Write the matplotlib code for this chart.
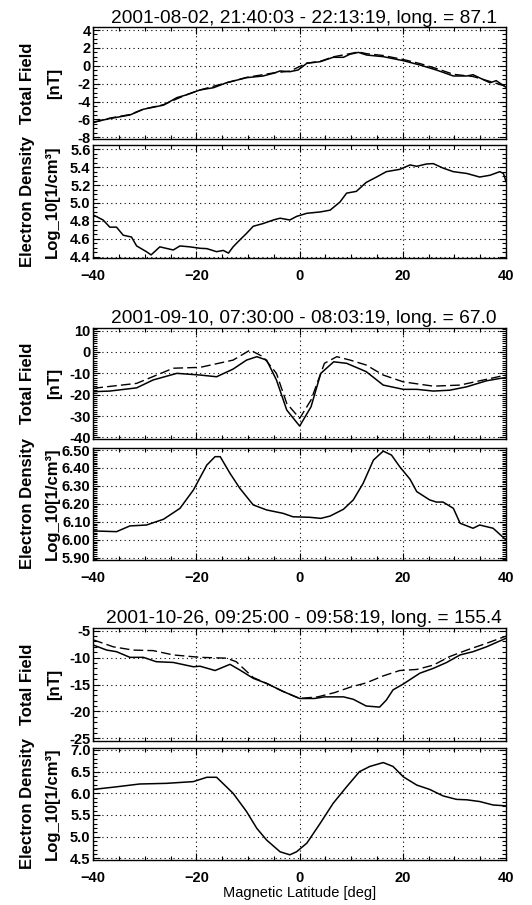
import matplotlib
matplotlib.use('Agg')
import matplotlib.pyplot as plt
from matplotlib.ticker import MultipleLocator, FormatStrFormatter

plt.rcParams['font.family'] = ['Liberation Sans', 'DejaVu Sans']

# --- pass 1: 2001-08-02 ---
title1 = '2001-08-02, 21:40:03 - 22:13:19, long. = 87.1'
lat1_b = [-40, -36.8, -32.9, -30.3, -26.4, -23.8, -22, -19.3, -16.7, -14.2, -10.3, -7.1,
          -5.1, -3.8, -1.9, -0.3, 1.4, 4, 6.5, 8.5, 9.7, 11.4, 13, 16.2, 20.1, 23.3,
          26.5, 29.8, 32.4, 33.6, 36.9, 38.1, 40]
b1 = [-6.3, -5.9, -5.5, -4.86, -4.4, -3.56, -3.26, -2.7, -2.45, -1.9, -1.33, -1.14,
      -0.84, -0.58, -0.66, -0.47, 0.28, 0.46, 0.95, 0.95, 1.28, 1.5, 1.2, 1.02, 0.57, 0.09,
      -0.47, -1.14, -1.14, -1.0, -1.9, -1.66, -2.4]
lat1_bm = [-40, -36.8, -32.9, -30.3, -26.4, -22, -19.3, -14.2, -10.3, -5.1, -1.9, 1.4, 4,
           6.5, 9.7, 11.4, 13, 16.2, 20.1, 23.3, 26.5, 29.8, 33.6, 36.9, 40]
bm1 = [-6.35, -5.85, -5.45, -4.85, -4.35, -3.25, -2.7, -1.9, -1.3, -0.8, -0.6, 0.3, 0.5,
       1.0, 1.35, 1.55, 1.35, 1.15, 0.7, 0.25, -0.3, -0.95, -1.2, -1.75, -2.3]
lat1_ne = [-40, -38.1, -36.8, -35.5, -34.2, -32.6, -31.6, -29.7, -28.8, -27.1, -24.5, -23.2,
           -21.3, -19.3, -18, -16.1, -14.8, -13.8, -12.9, -11.6, -10.3, -9.0, -7.1, -5.1,
           -3.8, -1.9, -0.6, 1.4, 4.0, 5.9, 7.8, 9.1, 11, 12.9, 14.9, 16.8, 19.4, 21.4,
           22.7, 24.6, 25.9, 27.8, 29.8, 32.4, 34.9, 36.9, 38.8, 39.5, 40]
ne1 = [4.866, 4.81, 4.73, 4.73, 4.64, 4.62, 4.52, 4.456, 4.42, 4.51, 4.475, 4.52,
       4.51, 4.494, 4.49, 4.456, 4.47, 4.44, 4.51, 4.587, 4.66, 4.74, 4.77, 4.81,
       4.83, 4.81, 4.85, 4.885, 4.90, 4.92, 5.01, 5.11, 5.13, 5.23, 5.29, 5.35, 5.376, 5.425,
       5.41, 5.436, 5.44, 5.39, 5.35, 5.33, 5.29, 5.31, 5.35, 5.33, 5.24]

# --- pass 2: 2001-09-10 ---
title2 = '2001-09-10, 07:30:00 - 08:03:19, long. = 67.0'
lat2_b = [-40, -36.8, -31.6, -28.4, -23.8, -19.3, -16.1, -12.9, -10.3, -8.3, -6.4, -4.5,
          -2.5, 0, 2.2, 4.1, 6.6, 9.1, 12.9, 16.2, 20.1, 22.7, 25.9, 29.1, 32.4, 36.2, 40]
b2 = [-18.6, -18.3, -16.8, -13.1, -10.0, -10.8, -11.6, -8.0, -3.8, -2.2, -3.8, -13.1,
      -27.2, -34.7, -25.7, -10.0, -4.6, -5.3, -9.2, -15.5, -17.5, -17.5, -18.3, -17.9,
      -16.3, -13.5, -11.9]
lat2_bm = [-40, -31.6, -24.5, -19.3, -12.9, -9.6, -7.1, -4.5, -2.5, 0, 2.2, 4.8, 7.2, 9.8,
           12.9, 16.2, 20.1, 25.9, 31.1, 40]
bm2 = [-17.0, -14.7, -7.6, -7.2, -3.8, 0.9, -2.2, -10.0, -24.1, -31.1, -22.5, -5.3, -2.2,
       -3.8, -6.1, -10.8, -14.0, -16.0, -15.5, -10.8]
lat2_ne = [-40, -35.5, -32.9, -29.7, -26.4, -23.2, -20.6, -18, -16.4, -15.4, -13.5, -11.6,
           -9.0, -6.4, -3.2, -1.3, 2.0, 4.1, 5.9, 8.5, 10.4, 12.3, 14.3, 16.2, 17.8, 19.4,
           21.4, 22.7, 25.2, 26.5, 27.8, 29.8, 31.1, 33.6, 34.9, 37.5, 40]
ne2 = [6.049, 6.045, 6.077, 6.082, 6.114, 6.175, 6.277, 6.416, 6.463, 6.463, 6.37, 6.287,
       6.194, 6.166, 6.147, 6.128, 6.125, 6.119, 6.132, 6.17, 6.222, 6.314, 6.444, 6.494,
       6.472, 6.407, 6.337, 6.268, 6.222, 6.21, 6.21, 6.175, 6.092, 6.064, 6.082, 6.064, 5.999]

# --- pass 3: 2001-10-26 ---
title3 = '2001-10-26, 09:25:00 - 09:58:19, long. = 155.4'
lat3_b = [-40, -37.4, -35.5, -32.9, -30.3, -27.8, -24.5, -20.6, -19.3, -16.4, -13.5, -11.6,
          -9.0, -6.4, -3.2, 0, 2.9, 4.8, 8.5, 10.4, 12.9, 15.5, 16.8, 18.1, 20.1, 23.3,
          25.9, 28.5, 31.1, 33.6, 36.2, 40]
b3 = [-7.66, -8.6, -8.9, -9.95, -9.95, -10.76, -10.9, -11.7, -11.6, -12.4, -11.25, -12.3,
      -13.85, -14.8, -16.3, -17.6, -17.6, -17.3, -17.3, -17.75, -19.0, -19.2, -17.9, -16.0,
      -14.9, -12.9, -12.0, -10.9, -9.5, -8.9, -8.0, -6.4]
lat3_bm = [-40, -36.1, -32.3, -28.4, -24.5, -19.3, -14.2, -12.3, -9.0, -6.4, -3.2, 0, 3.5,
           6.8, 9.8, 12.9, 16.2, 19.4, 22.7, 25.9, 29.1, 32.4, 36.2, 40]
bm3 = [-6.7, -8.0, -8.6, -8.7, -9.5, -9.95, -10.1, -10.76, -13.7, -14.8, -16.3, -17.6,
       -17.3, -16.5, -15.5, -14.7, -13.4, -12.4, -12.2, -11.4, -9.8, -8.6, -7.35, -6.0]
lat3_ne = [-40, -35.5, -31, -25.8, -20.6, -18, -16.1, -12.9, -10.3, -8.3, -6.4, -3.8, -1.9,
           -0.6, 1.4, 4.0, 6.5, 9.1, 11.6, 13.6, 16.2, 18.1, 20.1, 22.7, 25.2, 27.8, 30.4,
           32.4, 34.9, 37.5, 40]
ne3 = [6.09, 6.15, 6.215, 6.23, 6.27, 6.37, 6.37, 6.0, 5.58, 5.19, 4.92, 4.65, 4.58,
       4.65, 4.85, 5.31, 5.77, 6.15, 6.5, 6.62, 6.71, 6.62, 6.38, 6.19, 6.09, 5.94, 5.86,
       5.85, 5.81, 5.73, 5.71]

W, H = 532, 905
X0, X1 = 93.3, 506


def add_panel(fig, top, bottom, ylim, major, minor, fmt, xlabels):
    ax = fig.add_axes([X0 / W, 1 - bottom / H, (X1 - X0) / W, (bottom - top) / H])
    ax.set_xlim(-40, 40)
    ax.set_ylim(*ylim)
    ax.xaxis.set_major_locator(MultipleLocator(20))
    ax.xaxis.set_minor_locator(MultipleLocator(5))
    ax.yaxis.set_major_locator(MultipleLocator(major))
    ax.yaxis.set_minor_locator(MultipleLocator(minor))
    ax.yaxis.set_major_formatter(FormatStrFormatter(fmt))
    ax.tick_params(which='both', direction='in', top=True, right=True, width=0.8)
    ax.tick_params(which='major', length=5)
    ax.tick_params(which='minor', length=3)
    ax.tick_params(axis='y', pad=2)
    ax.tick_params(axis='x', pad=8)
    for lab in ax.get_xticklabels() + ax.get_yticklabels():
        lab.set_fontweight('bold')
        lab.set_fontsize(10.5)
    if not xlabels:
        ax.set_xticklabels([])
    ax.grid(True, which='major', color='k', linestyle=(0, (1, 3)), linewidth=0.8)
    for s in ax.spines.values():
        s.set_linewidth(1.0)
    return ax


def ylabel(fig, top, bottom, line1, line2, x2):
    yc = 1 - (top + bottom) / 2 / H
    fig.text(28 / W, yc, line1, rotation=90, ha='center', va='center',
             fontsize=12, fontweight='bold')
    fig.text(x2 / W, yc, line2, rotation=90, ha='center', va='center',
             fontsize=12, fontweight='bold')


def main():
    fig = plt.figure(figsize=(W / 100, H / 100), dpi=100)

    passes = [
        (title1, lat1_b, b1, lat1_bm, bm1, lat1_ne, ne1,
         (27.5, 139.5, (-8.24, 4.28), 2, 0.5, '%d'),
         (145, 258.3, (4.382, 5.648), 0.2, 0.05, '%.1f')),
        (title2, lat2_b, b2, lat2_bm, bm2, lat2_ne, ne2,
         (328.3, 439.3, (-40.9, 11.1), 10, 1, '%d'),
         (447.7, 560, (5.887, 6.513), 0.1, 0.01, '%.2f')),
        (title3, lat3_b, b3, lat3_bm, bm3, lat3_ne, ne3,
         (628.3, 740.7, (-25.45, -4.55), 5, 1, '%d'),
         (747.7, 860, (4.46, 7.053), 0.5, 0.1, '%.1f')),
    ]

    for title, xb, yb, xbm, ybm, xne, yne, pb, pn in passes:
        ax = add_panel(fig, *pb, xlabels=False)
        ax.plot(xbm, ybm, color='k', lw=1.0, dashes=(7, 3))
        ax.plot(xb, yb, color='k', lw=1.1)
        ax.set_title(title, fontsize=13.8, pad=3.5, x=0.51)
        ylabel(fig, pb[0], pb[1], 'Total Field', '[nT]', 55)

        ax2 = add_panel(fig, *pn, xlabels=True)
        ax2.plot(xne, yne, color='k', lw=1.1)
        ylabel(fig, pn[0], pn[1], 'Electron Density', 'Log_10[1/cm\u00b3]', 52)

    fig.text((X0 + X1) / 2 / W, 1 - 893 / H, 'Magnetic Latitude [deg]',
             ha='center', va='center', fontsize=10.5)

    fig.savefig('out.png', dpi=100)


if __name__ == '__main__':
    main()
